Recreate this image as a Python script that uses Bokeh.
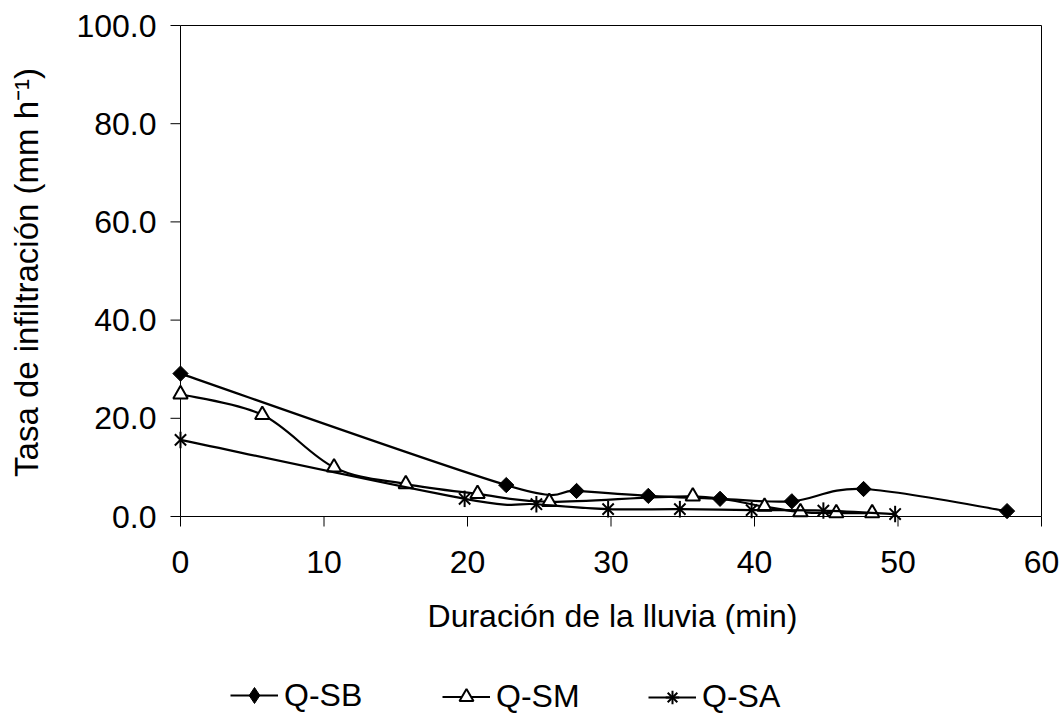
import numpy as np
from bokeh.plotting import figure
from bokeh.layouts import column
from bokeh.models import Legend, LegendItem, FixedTicker, NumeralTickFormatter, Range1d
from bokeh.embed import file_html
from bokeh.resources import INLINE

# ---- data ----
x_ticks = [0, 10, 20, 30, 40, 50, 60]
y_ticks = [0, 20, 40, 60, 80, 100]

sb_name = "Q-SB"
sb_x = [0.0, 22.7, 27.6, 32.6, 37.6, 42.6, 47.6, 57.6]
sb_y = [29.1, 6.4, 5.2, 4.2, 3.6, 3.1, 5.6, 1.1]

sm_name = "Q-SM"
sm_x = [0.0, 5.7, 10.7, 15.7, 20.7, 25.7, 35.7, 40.7, 43.2, 45.7, 48.2]
sm_y = [24.9, 20.7, 10.0, 6.6, 4.6, 3.0, 4.1, 2.0, 0.9, 0.7, 0.7]

sa_name = "Q-SA"
sa_x = [0.0, 19.8, 24.8, 29.8, 34.8, 39.8, 44.8, 49.8]
sa_y = [15.6, 3.6, 2.5, 1.5, 1.5, 1.3, 1.2, 0.5]

x_label = "Duración de la lluvia (min)"
y_label = "Tasa de infiltración (mm h\u207b\u00b9)"

FONT = "Liberation Sans"
FS = "32px"
LW = 2.2

# ---- layout (pixels) ----
AX_LEFT, AX_RIGHT, AX_TOP, AX_BOTTOM = 180, 1041, 25, 516   # axis box on the page
PAD_L, PAD_R, PAD_T, PAD_B = 11, 14, 8, 11                   # room so edge marks are not cut
TICK = 10
MAIN_H = 660
LEG_H = 55


def smooth_segments(xs, ys):
    """Bezier control points for a smoothed line through the points."""
    x = np.asarray(xs, float)
    y = np.asarray(ys, float)
    n = len(x)
    d = dict(x0=[], y0=[], x1=[], y1=[], cx0=[], cy0=[], cx1=[], cy1=[])
    for i in range(n - 1):
        ip = max(i - 1, 0)
        inn = min(i + 2, n - 1)
        d["x0"].append(x[i]); d["y0"].append(y[i])
        d["x1"].append(x[i + 1]); d["y1"].append(y[i + 1])
        d["cx0"].append(x[i] + (x[i + 1] - x[ip]) / 6.0)
        d["cy0"].append(y[i] + (y[i + 1] - y[ip]) / 6.0)
        d["cx1"].append(x[i + 1] - (x[inn] - x[i]) / 6.0)
        d["cy1"].append(y[i + 1] - (y[inn] - y[i]) / 6.0)
    return d


def draw_series(fig, xs, ys, kind):
    fig.bezier(source=smooth_segments(xs, ys), x0="x0", y0="y0", x1="x1", y1="y1",
               cx0="cx0", cy0="cy0", cx1="cx1", cy1="cy1",
               line_color="black", line_width=LW)
    if kind == "diamond":
        fig.scatter(xs, ys, marker="square", angle=np.pi / 4, size=10.8,
                    fill_color="black", line_color="black", line_width=1)
    elif kind == "triangle":
        fig.scatter(xs, ys, marker="triangle", size=14.5,
                    fill_color="white", line_color="black", line_width=2)
    else:
        fig.scatter(xs, ys, marker="x", size=16, line_color="black", line_width=2)
        fig.scatter(xs, ys, marker="dash", angle=np.pi / 2, size=16.5,
                    line_color="black", line_width=2)


def legend_renderers(fig, xs, ys, kind):
    """Renderers used only for the legend swatches (data lies outside the strip's view)."""
    rends = [fig.line(xs, ys, line_color="black", line_width=LW)]
    if kind == "diamond":
        rends.append(fig.scatter(xs, ys, marker="diamond", fill_color="black",
                                 line_color="black", line_width=1))
    elif kind == "triangle":
        rends.append(fig.scatter(xs, ys, marker="triangle", fill_color="white",
                                 line_color="black", line_width=2))
    else:
        rends.append(fig.scatter(xs, ys, marker="x", line_color="black", line_width=2))
        rends.append(fig.scatter(xs, ys, marker="cross", line_color="black", line_width=2))
    return rends


# ---------------- main chart ----------------
x0v, x1v = x_ticks[0], x_ticks[-1]
y0v, y1v = y_ticks[0], y_ticks[-1]
sx = (AX_RIGHT - AX_LEFT) / (x1v - x0v)
sy = (AX_BOTTOM - AX_TOP) / (y1v - y0v)
x_range = Range1d(x0v - PAD_L / sx, x1v + PAD_R / sx)
y_range = Range1d(y0v - PAD_B / sy, y1v + PAD_T / sy)

p = figure(width=1062, height=MAIN_H, output_backend="svg", toolbar_location=None,
           x_range=x_range, y_range=y_range,
           min_border_left=AX_LEFT - PAD_L, min_border_right=1062 - AX_RIGHT - PAD_R,
           min_border_top=AX_TOP - PAD_T, min_border_bottom=MAIN_H - AX_BOTTOM - PAD_B)

p.grid.visible = False
p.outline_line_color = None

# side axes carry only the tick labels and axis titles
for ax in (p.xaxis[0], p.yaxis[0]):
    ax.axis_line_color = None
    ax.major_tick_line_color = None
    ax.major_tick_out = 0
    ax.major_tick_in = 0
    ax.minor_tick_line_color = None
    ax.major_label_text_font = FONT
    ax.major_label_text_font_size = FS
    ax.major_label_text_color = "black"
    ax.axis_label_text_font = FONT
    ax.axis_label_text_font_size = FS
    ax.axis_label_text_font_style = "normal"
    ax.axis_label_text_color = "black"

p.xaxis.ticker = FixedTicker(ticks=x_ticks)
p.yaxis.ticker = FixedTicker(ticks=y_ticks)
p.yaxis.formatter = NumeralTickFormatter(format="0.0")
p.xaxis.axis_label = x_label
p.yaxis.axis_label = y_label
p.yaxis.axis_label_text_font_size = "33px"
p.xaxis.major_label_standoff = TICK + 24 - PAD_B
p.xaxis.axis_label_standoff = 22
p.yaxis.major_label_standoff = TICK + 14 - PAD_L
p.yaxis.axis_label_standoff = 28

# plot box
p.segment(x0=[x0v, x0v, x0v, x1v], y0=[y0v, y0v, y1v, y0v],
          x1=[x1v, x0v, x1v, x1v], y1=[y0v, y1v, y1v, y1v],
          line_color="black", line_width=1)
# tick marks (pointing outwards)
p.segment(x0=x_ticks, x1=x_ticks, y0=[y0v] * len(x_ticks),
          y1=[y0v - TICK / sy] * len(x_ticks), line_color="black", line_width=1)
p.segment(x0=[x0v] * len(y_ticks), x1=[x0v - TICK / sx] * len(y_ticks),
          y0=y_ticks, y1=y_ticks, line_color="black", line_width=1)

series = [(sb_name, sb_x, sb_y, "diamond"),
          (sm_name, sm_x, sm_y, "triangle"),
          (sa_name, sa_x, sa_y, "star")]
for name, xs, ys, kind in series:
    draw_series(p, xs, ys, kind)

# ---------------- legend strip ----------------
leg = figure(width=1062, height=LEG_H, output_backend="svg", toolbar_location=None,
             x_range=Range1d(1000, 1001), y_range=Range1d(1000, 1001),
             x_axis_type=None, y_axis_type=None,
             min_border_left=0, min_border_right=0, min_border_top=0, min_border_bottom=0)
leg.grid.visible = False
leg.outline_line_color = None

legend_x = [230, 442, 648]          # page x of each legend swatch
legend_gh = [40, 35, 34]
frame_left = AX_LEFT - PAD_L        # strip frame is aligned with the chart frame
for (name, xs, ys, kind), xpage, gh in zip(series, legend_x, legend_gh):
    rends = legend_renderers(leg, xs, ys, kind)
    lg = Legend(items=[LegendItem(label=name, renderers=rends)],
                location=(xpage - frame_left, 0), orientation="horizontal",
                glyph_width=48, glyph_height=gh, label_standoff=6,
                padding=0, margin=0, spacing=0,
                border_line_color=None, background_fill_alpha=0,
                label_text_font=FONT, label_text_font_size=FS,
                label_text_color="black")
    leg.add_layout(lg, "center")

layout = column(p, leg, spacing=0)
open("out.html", "w").write(file_html(layout, INLINE))
